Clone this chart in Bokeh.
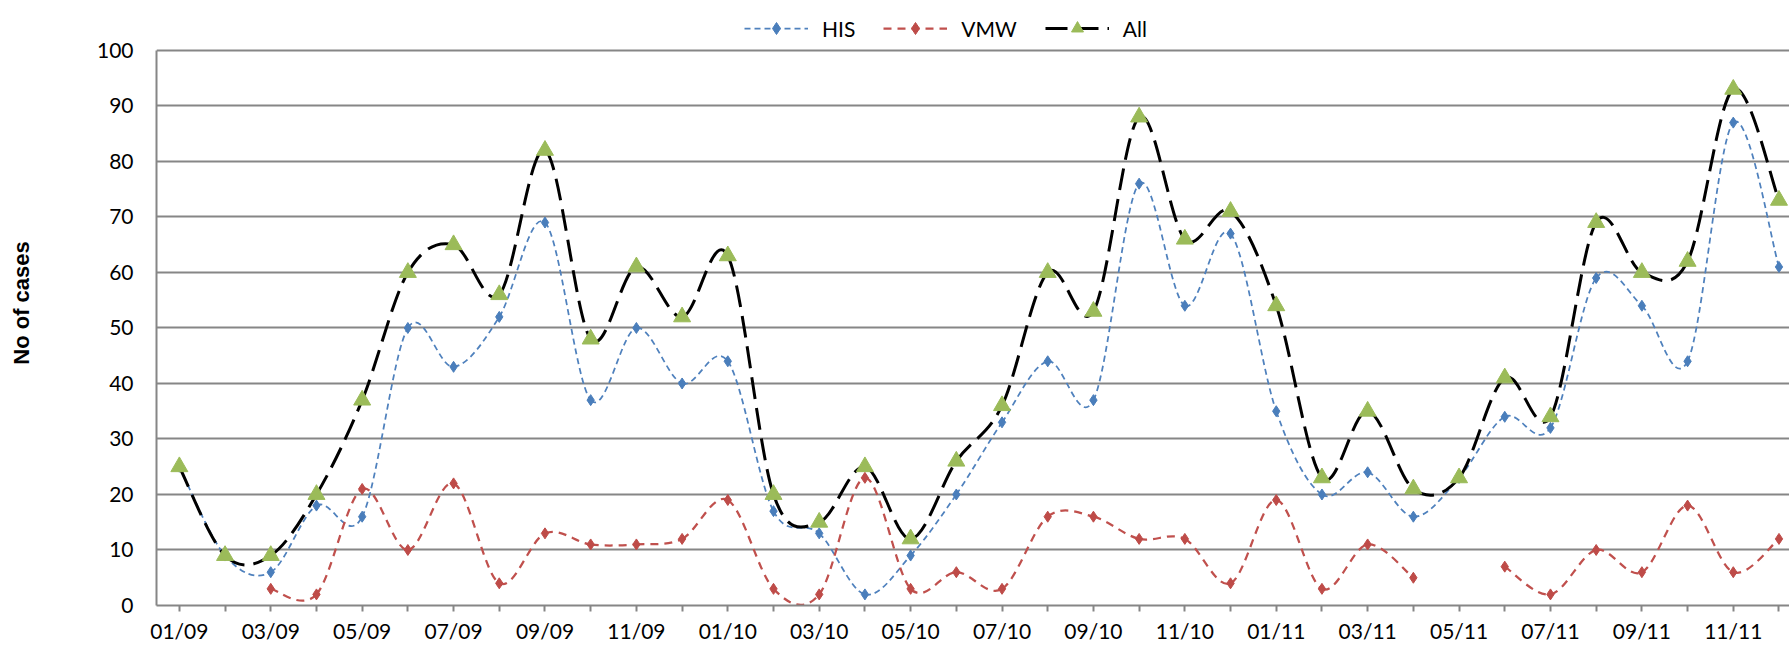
import math
from bokeh.plotting import figure
from bokeh.models import (ColumnDataSource, Range1d, FixedTicker, Legend, LegendItem)
from bokeh.embed import file_html
from bokeh.resources import INLINE

months = ["01/09", "02/09", "03/09", "04/09", "05/09", "06/09", "07/09", "08/09", "09/09", "10/09", "11/09", "12/09",
          "01/10", "02/10", "03/10", "04/10", "05/10", "06/10", "07/10", "08/10", "09/10", "10/10", "11/10", "12/10",
          "01/11", "02/11", "03/11", "04/11", "05/11", "06/11", "07/11", "08/11", "09/11", "10/11", "11/11", "12/11"]
his = [25, 9, 6, 18, 16, 50, 43, 52, 69, 37, 50, 40,
       44, 17, 13, 2, 9, 20, 33, 44, 37, 76, 54, 67,
       35, 20, 24, 16, 23, 34, 32, 59, 54, 44, 87, 61]
NA = float("nan")
vmw = [NA, NA, 3, 2, 21, 10, 22, 4, 13, 11, 11, 12,
       19, 3, 2, 23, 3, 6, 3, 16, 16, 12, 12, 4,
       19, 3, 11, 5, NA, 7, 2, 10, 6, 18, 6, 12]
all_cases = [25, 9, 9, 20, 37, 60, 65, 56, 82, 48, 61, 52,
             63, 20, 15, 25, 12, 26, 36, 60, 53, 88, 66, 71,
             54, 23, 35, 21, 23, 41, 34, 69, 60, 62, 93, 73]

FONT = "Lato"
GRID = "#868686"

# frame spans the whole top of the canvas (room for the legend); axis & grid stop at 100
p = figure(width=1789, height=645, output_backend="svg", toolbar_location=None,
           x_range=Range1d(-0.5, 35.23), y_range=Range1d(0, 109.0),
           min_border_left=156, min_border_right=0, min_border_top=0, min_border_bottom=0)
p.outline_line_color = None
p.background_fill_color = "white"
p.border_fill_color = "white"

# axes
p.xaxis.ticker = FixedTicker(ticks=list(range(len(months))))
p.xaxis.major_label_overrides = {i: (m if i % 2 == 0 else "") for i, m in enumerate(months)}
p.xaxis.minor_tick_line_color = None
p.xaxis.major_tick_out = 6
p.xaxis.major_tick_in = 0
p.xaxis.major_tick_line_color = GRID
p.xaxis.major_tick_line_width = 2
p.xaxis.axis_line_color = GRID
p.xaxis.axis_line_width = 2
p.xaxis.major_label_standoff = 6
p.xaxis.major_label_text_font = FONT
p.xaxis.major_label_text_font_size = "21px"
p.xaxis.major_label_text_color = "black"

p.yaxis.ticker = FixedTicker(ticks=list(range(0, 101, 10)))
p.yaxis.bounds = (0, 100)
p.yaxis.minor_tick_line_color = None
p.yaxis.major_tick_out = 0
p.yaxis.major_tick_in = 0
p.yaxis.axis_line_color = GRID
p.yaxis.axis_line_width = 2
p.yaxis.major_label_standoff = 23
p.yaxis.major_label_text_font = FONT
p.yaxis.major_label_text_font_size = "21px"
p.yaxis.major_label_text_color = "black"
p.yaxis.axis_label = "No of cases"
p.yaxis.axis_label_text_font = "Liberation Sans"
p.yaxis.axis_label_text_font_style = "bold"
p.yaxis.axis_label_text_font_size = "22px"
p.yaxis.axis_label_text_color = "black"
p.yaxis.axis_label_standoff = 60

p.xgrid.grid_line_color = None
p.ygrid.grid_line_color = GRID
p.ygrid.grid_line_width = 2


def smooth_segments(xs, ys):
    """Bezier segments (Excel-like smoothing) through consecutive valid points."""
    out = dict(x0=[], y0=[], x1=[], y1=[], cx0=[], cy0=[], cx1=[], cy1=[])
    runs, cur = [], []
    for x, y in zip(xs, ys):
        if y is None or (isinstance(y, float) and math.isnan(y)):
            if cur:
                runs.append(cur)
            cur = []
        else:
            cur.append((x, y))
    if cur:
        runs.append(cur)
    for run in runs:
        n = len(run)
        for i in range(n - 1):
            p0 = run[i - 1] if i > 0 else run[i]
            p1 = run[i]
            p2 = run[i + 1]
            p3 = run[i + 2] if i + 2 < n else run[i + 1]
            out["x0"].append(p1[0]); out["y0"].append(p1[1])
            out["x1"].append(p2[0]); out["y1"].append(p2[1])
            out["cx0"].append(p1[0] + (p2[0] - p0[0]) / 6.0)
            out["cy0"].append(p1[1] + (p2[1] - p0[1]) / 6.0)
            out["cx1"].append(p2[0] - (p3[0] - p1[0]) / 6.0)
            out["cy1"].append(p2[1] - (p3[1] - p1[1]) / 6.0)
    return ColumnDataSource(out)


xs = list(range(len(months)))
series = [
    ("HIS", his, "#4F81BD", 1.75, "6 4", "diamond", "#4A7EBB", 11),
    ("VMW", vmw, "#C0504D", 2.25, "8 6", "diamond", "#BE4B48", 11),
    ("All", all_cases, "black", 3.0, "22 9", "triangle", "#9BBB59", 17),
]

items = []
for name, ys, color, lw, dash, marker, mcolor, msize in series:
    seg = smooth_segments(xs, ys)
    bz = p.bezier(x0="x0", y0="y0", x1="x1", y1="y1", cx0="cx0", cy0="cy0", cx1="cx1", cy1="cy1",
                  source=seg, line_color=color, line_width=lw, line_dash=dash)
    src = ColumnDataSource(dict(x=xs, y=ys))
    sc = p.scatter(x="x", y="y", source=src, marker=marker, size=msize,
                   fill_color=mcolor, line_color=mcolor)
    items.append(LegendItem(label=name, renderers=[bz, sc]))

legend = Legend(items=items, orientation="horizontal", location=(588, 562),
                glyph_width=64, glyph_height=30, label_standoff=14, spacing=28,
                padding=0, margin=0, border_line_color=None, background_fill_alpha=0,
                label_text_font=FONT, label_text_font_size="21px", label_text_color="black")
p.add_layout(legend)

open("out.html", "w").write(file_html(p, INLINE))
